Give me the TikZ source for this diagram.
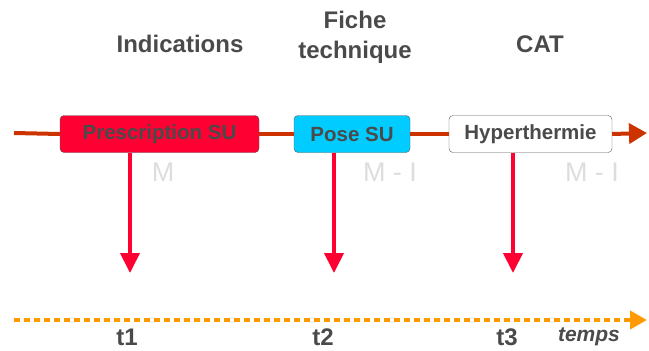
\documentclass[tikz,border=0pt]{standalone}
\usepackage{fontspec}
\setmainfont{Liberation Sans}
\usetikzlibrary{arrows.meta}
\definecolor{axisred}{HTML}{CC3300}
\definecolor{arrowred}{HTML}{FF0033}
\definecolor{posecyan}{HTML}{00CCFF}
\definecolor{timeorange}{HTML}{FF9900}
\definecolor{textgray}{HTML}{4A4A4A}
\definecolor{markgray}{HTML}{DDDDDD}

\begin{document}
\begin{tikzpicture}[
    x=1pt, y=-1pt,
    box/.style={rectangle, draw=gray!70!black, rounded corners=4pt, minimum height=37pt, inner sep=0pt, text=textgray, font=\fontsize{20.5}{24}\selectfont\bfseries},
    title/.style={align=center, text=textgray, font=\fontsize{24}{30}\selectfont\bfseries},
    tlabel/.style={text=textgray, font=\fontsize{24}{28}\selectfont\bfseries},
    mlabel/.style={text=markgray, font=\fontsize{27}{30}\selectfont},
    axis/.style={line width=4pt, draw=axisred},
    arrow/.style={-{Triangle[length=20pt, width=19pt]}, line width=4pt, draw=arrowred},
    timeline/.style={line width=4pt, draw=timeorange, dash pattern=on 6pt off 4pt, -{Triangle[length=17pt, width=18pt, fill=timeorange]}}
]
    \useasboundingbox (0,0) rectangle (649,351);

    % titles
    \node[title] (ind) at (180,44) {Indications};
    \node[title] (fiche) at (355,37) {Fiche\\technique};
    \node[title] (cat) at (540,44) {CAT};

    % boxes on the axis
    \node[box, fill=arrowred, minimum width=199pt] (presc) at (159.5,134) {Prescription SU};
    \node[box, fill=posecyan, minimum width=116pt] (pose) at (352,134) {Pose SU};
    \node[box, fill=white, minimum width=163pt] (hyper) at (530.5,134) {Hyperthermie};

    \coordinate (lstart) at (14,133);
    \coordinate (lend) at (647,133);
    \draw[axis] (lstart) -- (presc.west);
    \draw[axis] (presc.east) -- (pose.west);
    \draw[axis] (pose.east) -- (hyper.west);
    \draw[axis, -{Triangle[length=18pt, width=20pt]}] (hyper.east) -- (lend);

    % marks
    \node[mlabel] (m1) at (163,172) {M};
    \node[mlabel] (m2) at (390,172) {M - I};
    \node[mlabel] (m3) at (592,172) {M - I};

    % red arrows
    \coordinate (a1) at (130,273);
    \coordinate (a2) at (334,273);
    \coordinate (a3) at (513,273);
    \draw[arrow] (presc.south -| a1) -- (a1);
    \draw[arrow] (pose.south -| a2) -- (a2);
    \draw[arrow] (hyper.south -| a3) -- (a3);

    % time line
    \coordinate (tstart) at (14,320);
    \coordinate (tend) at (647,320);
    \draw[timeline] (tstart) -- (tend);

    \node[tlabel] (t1) at (127,337) {t1};
    \node[tlabel] (t2) at (323,337) {t2};
    \node[tlabel] (t3) at (507,337) {t3};
    \node[text=textgray, font=\fontsize{21}{24}\selectfont\bfseries\itshape] (temps) at (589,337) {temps};
\end{tikzpicture}
\end{document}
